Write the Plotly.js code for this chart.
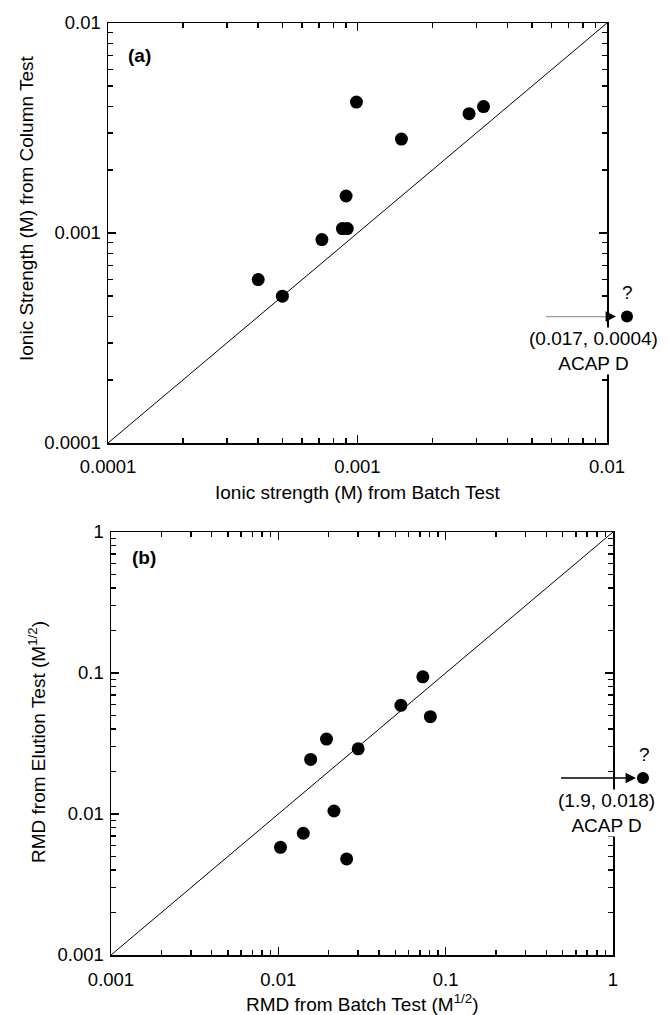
<!DOCTYPE html>
<html>
<head>
<meta charset="utf-8">
<script src="https://cdn.plot.ly/plotly-3.0.1.min.js"></script>
<style>html,body{margin:0;padding:0;background:#fff;}#chart{width:670px;height:1015px;}</style>
</head>
<body>
<div id="chart"></div>
<script>
// ---------- data ----------
// Panel (a): ionic strength (M)
const batchIonic  = [0.00099, 0.0028, 0.0032, 0.0015, 0.0009, 0.00087, 0.00091, 0.00072, 0.0004, 0.0005];
const columnIonic = [0.0042, 0.0037, 0.0040, 0.0028, 0.0015, 0.00105, 0.00105, 0.00093, 0.0006, 0.0005];
const outlierA = [0.017, 0.0004];           // ACAP D (off scale)
const diagA = [0.0001, 0.01];
const ticksA = [0.0001, 0.001, 0.01];
const tickTextA = ['0.0001', '0.001', '0.01'];

// Panel (b): RMD (M^1/2)
const batchRMD   = [0.073, 0.054, 0.081, 0.0194, 0.030, 0.0156, 0.0215, 0.0141, 0.0103, 0.0256];
const elutionRMD = [0.094, 0.059, 0.049, 0.034, 0.029, 0.0244, 0.0105, 0.0073, 0.0058, 0.0048];
const outlierB = [1.9, 0.018];              // ACAP D (off scale)
const diagB = [0.001, 1];
const ticksB = [0.001, 0.01, 0.1, 1];
const tickTextB = ['0.001', '0.01', '0.1', '1'];
const outlierName = 'ACAP D';

// ---------- helpers ----------
const W = 670, H = 1015;
const px = v => v / W;
const py = v => 1 - v / H;
const FONT = 'Liberation Sans, Arial, Helvetica, sans-serif';

function minorVals(lo, hi) {
  const out = [];
  for (let e = lo; e < hi; e++) for (let m = 2; m <= 9; m++) out.push(m * Math.pow(10, e));
  return out;
}
// paper coordinate of a data value on a log axis
function logPaper(domain, range, v) {
  return domain[0] + (Math.log10(v) - range[0]) / (range[1] - range[0]) * (domain[1] - domain[0]);
}

function axisBase(domain, range, tv, tt, anchor, standoff, lo, hi) {
  return {
    type: 'log', domain: domain, range: range, anchor: anchor,
    tickmode: 'array', tickvals: tv, ticktext: tt,
    ticks: 'inside', ticklen: 8, tickwidth: 1.5, tickcolor: '#000',
    ticklabelstandoff: standoff,
    minor: { tickmode: 'array', tickvals: minorVals(lo, hi), ticks: 'inside', ticklen: 5, tickwidth: 1.5, tickcolor: '#000', showgrid: false },
    showline: true, linecolor: '#000', linewidth: 1.5, mirror: 'ticks',
    showgrid: false, zeroline: false, automargin: false,
    tickfont: { family: FONT, size: 18.5, color: '#000' }
  };
}

const dotStyle = { color: '#000', size: 13, symbol: 'circle' };

const domXA = [px(108), px(607)], domYA = [py(443), py(23)], rngA = [-4, -2];
const domXB = [px(111), px(613)], domYB = [py(955), py(532)], rngB = [-3, 0];

const traces = [
  { x: diagA, y: diagA, xaxis: 'x', yaxis: 'y', mode: 'lines', line: { color: '#000', width: 1 }, hoverinfo: 'skip' },
  { x: batchIonic, y: columnIonic, xaxis: 'x', yaxis: 'y', mode: 'markers', marker: dotStyle },
  { x: diagB, y: diagB, xaxis: 'x2', yaxis: 'y2', mode: 'lines', line: { color: '#000', width: 1 }, hoverinfo: 'skip' },
  { x: batchRMD, y: elutionRMD, xaxis: 'x2', yaxis: 'y2', mode: 'markers', marker: dotStyle }
];

const fnt = size => ({ family: FONT, size: size || 19, color: '#000' });

// off-scale outlier dots, drawn just outside the right axis at the outlier's y value
function dot(cxPx, yP, r) {
  return { type: 'circle', xref: 'paper', yref: 'paper',
    x0: px(cxPx - r), x1: px(cxPx + r), y0: yP - r / H, y1: yP + r / H,
    fillcolor: '#000', line: { width: 0 } };
}
const shapes = [
  dot(627, logPaper(domYA, rngA, outlierA[1]), 6),
  dot(643, logPaper(domYB, rngB, outlierB[1]), 6)
];

const annotations = [
  // axis titles
  { text: 'Ionic strength (M) from Batch Test', xref: 'paper', yref: 'paper', x: px(357), y: py(492), xanchor: 'center', yanchor: 'middle', showarrow: false, font: fnt(19) },
  { text: 'Ionic Strength (M) from Column Test', xref: 'paper', yref: 'paper', x: px(26), y: py(208), xanchor: 'center', yanchor: 'middle', textangle: -90, showarrow: false, font: fnt(19) },
  { text: 'RMD from Batch Test (M<sup>1/2</sup>)', xref: 'paper', yref: 'paper', x: px(362), y: py(1003), xanchor: 'center', yanchor: 'middle', showarrow: false, font: fnt(19) },
  { text: 'RMD from Elution Test (M<sup>1/2</sup>)', xref: 'paper', yref: 'paper', x: px(37), y: py(742), xanchor: 'center', yanchor: 'middle', textangle: -90, showarrow: false, font: fnt(19) },
  // panel labels
  { text: '<b>(a)</b>', xref: 'paper', yref: 'paper', x: px(126), y: py(55), xanchor: 'left', yanchor: 'middle', showarrow: false, font: fnt(19) },
  { text: '<b>(b)</b>', xref: 'paper', yref: 'paper', x: px(130), y: py(557), xanchor: 'left', yanchor: 'middle', showarrow: false, font: fnt(19) },
  // panel (a) outlier arrow (grey shaft, black head)
  { text: ' ', xref: 'paper', yref: 'y', x: px(607), y: Math.log10(outlierA[1]), ax: -64, ay: 0, showarrow: true, arrowhead: 0, arrowwidth: 1.3, arrowcolor: '#9a9a9a' },
  { text: ' ', xref: 'paper', yref: 'y', x: px(616), y: Math.log10(outlierA[1]), ax: -13, ay: 0, showarrow: true, arrowhead: 2, arrowsize: 1.6, arrowwidth: 1.3, arrowcolor: '#000' },
  { text: '?', xref: 'paper', yref: 'paper', x: px(627), y: py(292), xanchor: 'center', yanchor: 'middle', showarrow: false, font: fnt(19) },
  { text: '(' + outlierA[0] + ', ' + outlierA[1] + ')<br>' + outlierName, xref: 'paper', yref: 'paper', x: px(593), y: py(351), xanchor: 'center', yanchor: 'middle', showarrow: false, bgcolor: '#fff', borderpad: 0, font: fnt(19) },
  // panel (b) outlier arrow
  { text: ' ', xref: 'paper', yref: 'y2', x: px(636), y: Math.log10(outlierB[1]), ax: -78, ay: 0, showarrow: true, arrowhead: 2, arrowsize: 1.6, arrowwidth: 1.3, arrowcolor: '#000' },
  { text: '?', xref: 'paper', yref: 'paper', x: px(644), y: py(754), xanchor: 'center', yanchor: 'middle', showarrow: false, font: fnt(19) },
  { text: '(' + outlierB[0] + ', ' + outlierB[1] + ')<br>' + outlierName, xref: 'paper', yref: 'paper', x: px(606), y: py(813), xanchor: 'center', yanchor: 'middle', showarrow: false, bgcolor: '#fff', borderpad: 0, font: fnt(19) }
];

const layout = {
  width: W, height: H,
  margin: { l: 0, r: 0, t: 0, b: 0 },
  paper_bgcolor: '#fff', plot_bgcolor: '#fff',
  showlegend: false,
  font: { family: FONT, color: '#000' },
  xaxis: axisBase(domXA, rngA, ticksA, tickTextA, 'y', 6, -4, -2),
  yaxis: axisBase(domYA, rngA, ticksA, tickTextA, 'x', 2, -4, -2),
  xaxis2: axisBase(domXB, rngB, ticksB, tickTextB, 'y2', 7, -3, 0),
  yaxis2: axisBase(domYB, rngB, ticksB, tickTextB, 'x2', 2, -3, 0),
  shapes: shapes,
  annotations: annotations
};

Plotly.newPlot('chart', traces, layout, { staticPlot: true, displayModeBar: false });
</script>
</body>
</html>
